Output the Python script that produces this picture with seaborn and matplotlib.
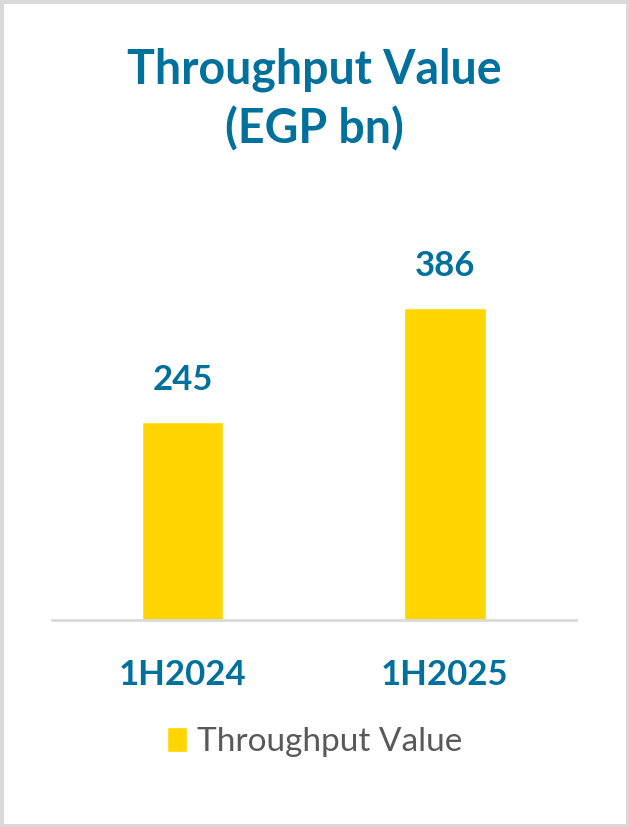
import matplotlib
matplotlib.use("Agg")
import matplotlib.pyplot as plt
import seaborn as sns
import pandas as pd
from matplotlib.patches import Rectangle

categories = ["1H2024", "1H2025"]
values = [245, 386]
series_name = "Throughput Value"
title_lines = ["Throughput Value", "(EGP bn)"]

BLUE = "#00709c"
GOLD = "#ffd500"
GRAY_TEXT = "#595959"

sns.set_theme(style="white")
plt.rcParams["font.family"] = ["Lato", "DejaVu Sans"]

df = pd.DataFrame({"period": categories, "value": values})

fig = plt.figure(figsize=(6.29, 8.27), dpi=100)
ax = fig.add_axes([0.0819, 0.2503, 0.9157 - 0.0819, 0.69 - 0.2503])

sns.barplot(data=df, x="period", y="value", color=GOLD, width=0.31,
            saturation=1, label=series_name, ax=ax)

ax.set_xlim(-0.5, 1.5)
ax.set_ylim(0, 450)
for s in ["top", "right", "left"]:
    ax.spines[s].set_visible(False)
ax.spines["bottom"].set_color("#d9d9d9")
ax.spines["bottom"].set_linewidth(2)
ax.set_yticks([])
ax.set_xlabel("")
ax.set_ylabel("")
ax.tick_params(axis="x", length=0, pad=28, labelsize=25, labelcolor=BLUE)
for t in ax.get_xticklabels():
    t.set_fontweight("bold")

for i, v in enumerate(values):
    ax.annotate(f"{v}", (i, v), xytext=(0, 30), textcoords="offset points",
                ha="center", va="center", fontsize=25, fontweight="bold",
                color=BLUE, annotation_clip=False)

for line, base in zip(title_lines, [84, 143]):
    fig.text(0.5, 1 - base / 827, line, ha="center", va="baseline",
             fontsize=33.5, fontweight="bold", color=BLUE)

leg = ax.legend(loc="center", bbox_to_anchor=(0.5, 1 - 742 / 827),
                bbox_transform=fig.transFigure, frameon=False,
                fontsize=24, handlelength=0.6, handleheight=0.75,
                handletextpad=0.3)
for t in leg.get_texts():
    t.set_color(GRAY_TEXT)

fig.patches.append(Rectangle((0, 0), 1, 1, transform=fig.transFigure,
                             fill=False, edgecolor="#d9d9d9", linewidth=5,
                             zorder=10))

fig.savefig("out.png", dpi=100)
